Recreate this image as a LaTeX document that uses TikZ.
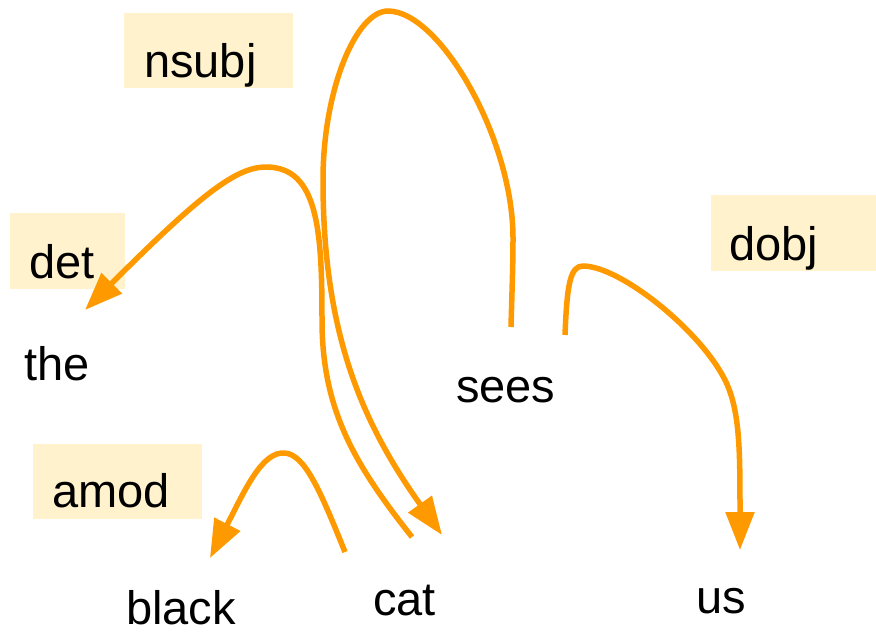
\documentclass[tikz,border=0pt]{standalone}
\usepackage{fontspec}
\setmainfont{Liberation Sans}
\usetikzlibrary{arrows.meta}
\definecolor{arcorange}{HTML}{FF9900}
\definecolor{labelfill}{HTML}{FFF2CC}
\begin{document}
\begin{tikzpicture}[x=1pt,y=-1pt,
  word/.style={anchor=base west,inner sep=0pt,font=\fontsize{47}{56}\selectfont},
  relbox/.style={anchor=north west,inner sep=0pt,fill=labelfill,draw=none},
  arc/.style={draw=arcorange,line width=5.5pt},
  arcarrow/.style={arc,-{Triangle[length=38pt,width=28pt]}}]
\useasboundingbox (0,0) rectangle (876,633);

% relation label boxes
\node[relbox,minimum width=169pt,minimum height=75pt] (nsubjbox) at (124,13) {};
\node[relbox,minimum width=115pt,minimum height=76pt] (detbox) at (10,213) {};
\node[relbox,minimum width=169pt,minimum height=75pt] (amodbox) at (33,444) {};
\node[relbox,minimum width=165pt,minimum height=76pt] (dobjbox) at (711,195) {};

% relation labels
\node[word] (nsubj) at (144,77) {nsubj};
\node[word] (det) at (29,278) {det};
\node[word] (amod) at (52,507) {amod};
\node[word] (dobj) at (729,260) {dobj};

% words
\node[word] (the) at (24,380) {the};
\node[word] (sees) at (456,402) {sees};
\node[word] (black) at (126,624) {black};
\node[word] (cat) at (373,615) {cat};
\node[word] (us) at (696,613) {us};

% arc end points
\coordinate (sees-out-l) at (511,327);
\coordinate (sees-out-r) at (565,335);
\coordinate (cat-in) at (442,535);
\coordinate (cat-out-l) at (345,552);
\coordinate (cat-out-r) at (412,537);
\coordinate (the-in) at (85,310);
\coordinate (black-in) at (210,558);
\coordinate (us-in) at (740,550);

% nsubj: sees -> cat
\draw[arcarrow] (sees-out-l) .. controls (512,290) and (513,265) .. (513,240)
  .. controls (514,140) and (440,11) .. (388,11)
  .. controls (356,11) and (323,90) .. (323,180)
  .. controls (323,330) and (360,420) .. (cat-in);
% det: cat -> the
\draw[arcarrow] (cat-out-r) .. controls (355,465) and (322,410) .. (322,320)
  .. controls (322,230) and (318,167) .. (266,167)
  .. controls (236,167) and (200,195) .. (the-in);
% amod: cat -> black
\draw[arcarrow] (cat-out-l) .. controls (320,490) and (305,455) .. (285,453)
  .. controls (262,451) and (245,490) .. (black-in);
% dobj: sees -> us
\draw[arcarrow] (sees-out-r) .. controls (567,285) and (570,266) .. (583,266)
  .. controls (620,266) and (700,330) .. (725,380)
  .. controls (740,410) and (740,450) .. (us-in);
\end{tikzpicture}
\end{document}
